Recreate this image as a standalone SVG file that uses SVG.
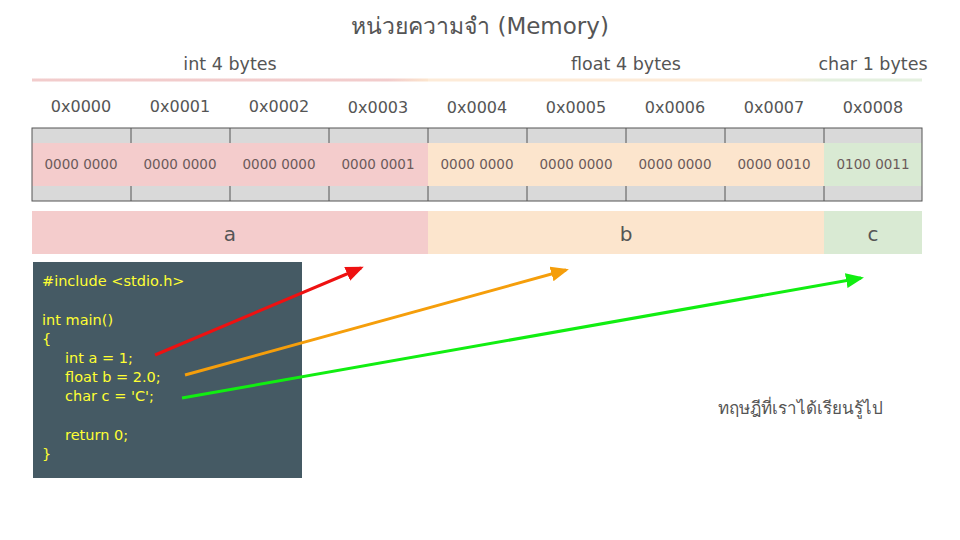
<svg xmlns="http://www.w3.org/2000/svg" width="960" height="540" viewBox="0 0 960 540">
<defs>
<style>
.t{font-family:"DejaVu Sans","Noto Sans",sans-serif;fill:#555;text-anchor:middle}
.addr{font-size:16px}
.bits{font-size:13.5px;fill:#6b5a5a}
.var{font-size:20px}
.code{font-family:"DejaVu Sans","Noto Sans",sans-serif;font-size:14.5px;fill:#ffff33}
.grey{fill:#d9d9d9}
.div{stroke:#555;stroke-width:1}
</style>
<linearGradient id="gInt" x1="0" x2="1"><stop offset="0.9" stop-color="#f2cccc"/><stop offset="1" stop-color="#fce5cd"/></linearGradient>
<linearGradient id="gFloat" x1="0" x2="1"><stop offset="0.9" stop-color="#fdebd8"/><stop offset="1" stop-color="#e4f0df"/></linearGradient>
<marker id="aR" markerWidth="6" markerHeight="5" refX="5" refY="2.5" orient="auto" markerUnits="strokeWidth"><path d="M0,0 L6,2.5 L0,5 Z" fill="#ee1111"/></marker>
<marker id="aO" markerWidth="6" markerHeight="5" refX="5" refY="2.5" orient="auto" markerUnits="strokeWidth"><path d="M0,0 L6,2.5 L0,5 Z" fill="#f59e0b"/></marker>
<marker id="aG" markerWidth="6" markerHeight="5" refX="5" refY="2.5" orient="auto" markerUnits="strokeWidth"><path d="M0,0 L6,2.5 L0,5 Z" fill="#11ee11"/></marker>
</defs>
<rect width="960" height="540" fill="#fff"/>

<g id="title"><text class="t" x="480" y="34" font-size="23">หน่วยความจำ (Memory)</text></g>

<g id="type-labels">
<text class="t" x="230" y="70" font-size="17.5">int 4 bytes</text>
<text class="t" x="626" y="70" font-size="17.5">float 4 bytes</text>
<text class="t" x="873" y="70" font-size="17.5">char 1 bytes</text>
<rect x="32" y="78.5" width="396" height="3" fill="url(#gInt)"/>
<rect x="428" y="78.5" width="396" height="3" fill="url(#gFloat)"/>
<rect x="824" y="78.5" width="98" height="3" fill="#e4f0df"/>
</g>

<g id="addresses">
<text class="t addr" x="81" y="112">0x0000</text>
<text class="t addr" x="180" y="112">0x0001</text>
<text class="t addr" x="279" y="112">0x0002</text>
<text class="t addr" x="378" y="113">0x0003</text>
<text class="t addr" x="477" y="113">0x0004</text>
<text class="t addr" x="576" y="113">0x0005</text>
<text class="t addr" x="675" y="113">0x0006</text>
<text class="t addr" x="774" y="113">0x0007</text>
<text class="t addr" x="873" y="113">0x0008</text>
</g>

<g id="memory-cells">
<rect class="grey" x="32" y="128" width="890" height="73"/>
<rect x="32" y="143" width="396" height="43" fill="#f4cccc"/>
<rect x="428" y="143" width="396" height="43" fill="#fce5cd"/>
<rect x="824" y="143" width="98" height="43" fill="#d9ead3"/>
<g class="div">
<path d="M131,128V143M230,128V143M329,128V143M428,128V143M527,128V143M626,128V143M725,128V143M824,128V143"/>
<path d="M131,186V201M230,186V201M329,186V201M428,186V201M527,186V201M626,186V201M725,186V201M824,186V201"/>
</g>
<rect x="32" y="128" width="890" height="73" fill="none" stroke="#555" stroke-width="1"/>
<text class="t bits" x="81" y="169">0000 0000</text>
<text class="t bits" x="180" y="169">0000 0000</text>
<text class="t bits" x="279" y="169">0000 0000</text>
<text class="t bits" x="378" y="169">0000 0001</text>
<text class="t bits" x="477" y="169">0000 0000</text>
<text class="t bits" x="576" y="169">0000 0000</text>
<text class="t bits" x="675" y="169">0000 0000</text>
<text class="t bits" x="774" y="169">0000 0010</text>
<text class="t bits" x="873" y="169">0100 0011</text>
</g>

<g id="var-a"><rect x="32" y="211" width="396" height="43" fill="#f4cccc"/><text class="t var" x="230" y="241">a</text></g>
<g id="var-b"><rect x="428" y="211" width="396" height="43" fill="#fce5cd"/><text class="t var" x="626" y="241">b</text></g>
<g id="var-c"><rect x="824" y="211" width="98" height="43" fill="#d9ead3"/><text class="t var" x="873" y="241">c</text></g>

<g id="code">
<rect x="33" y="262" width="269" height="216" fill="#455a64"/>
<text class="code" x="42" y="286">#include &lt;stdio.h&gt;</text>
<text class="code" x="42" y="325">int main()</text>
<text class="code" x="42" y="344">{</text>
<text class="code" x="65" y="363">int a = 1;</text>
<text class="code" x="65" y="382">float b = 2.0;</text>
<text class="code" x="65" y="401">char c = 'C';</text>
<text class="code" x="65" y="440">return 0;</text>
<text class="code" x="42" y="459">}</text>
</g>

<g id="connectors" fill="none" stroke-width="3">
<line x1="155" y1="355" x2="361" y2="268" stroke="#ee1111" marker-end="url(#aR)"/>
<line x1="185" y1="375" x2="566" y2="270" stroke="#f59e0b" marker-end="url(#aO)"/>
<line x1="182" y1="398" x2="861" y2="278" stroke="#11ee11" marker-end="url(#aG)"/>
</g>

<g id="caption"><text class="t" x="800" y="414" font-size="17">ทฤษฎีที่เราได้เรียนรู้ไป</text></g>
</svg>
